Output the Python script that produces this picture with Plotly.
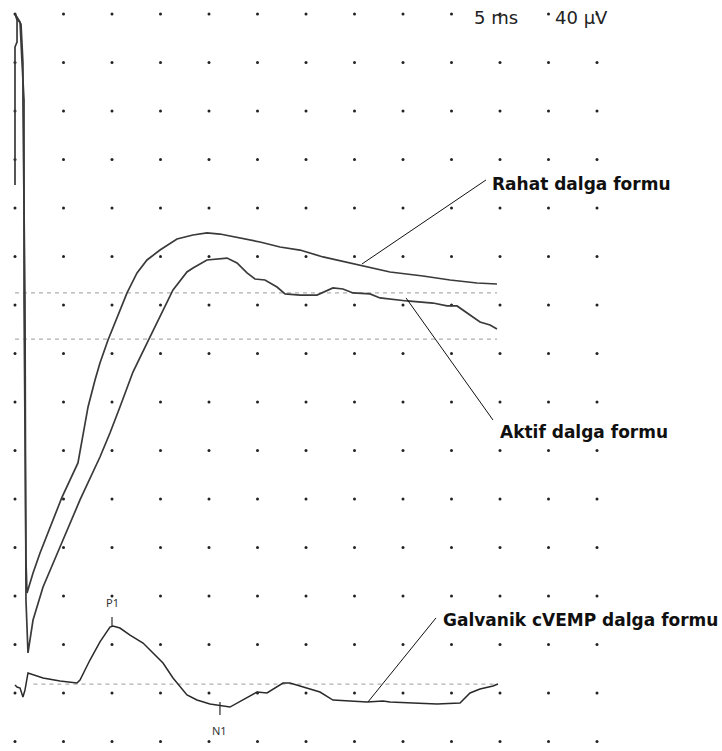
import plotly.graph_objects as go

# ---- data (time in ms, amplitude in µV; grid = 5 ms x 40 µV) ----
rahat_t = [0.0, 0.0, 0.21, 0.21, 0.0, 0.52, 0.72, 0.93, 0.93, 1.13, 1.24, 1.86, 2.58, 3.61, 4.85, 6.49,
           6.91, 7.53, 8.25, 8.76, 9.59, 10.52, 11.55, 12.58, 13.61, 14.95, 16.70, 18.35, 19.79, 21.13,
           23.20, 25.26, 27.32, 29.38, 31.75, 35.26, 38.66, 42.06, 44.85, 47.63, 49.69]
rahat_v = [459.0, 572.8, 576.9, 595.0, 600.0, 593.4, 560.4, 529.0, 364.1, 149.7, 122.5, 139.0, 155.5,
           176.9, 201.6, 229.7, 248.6, 275.9, 298.1, 312.2, 331.1, 350.1, 369.9, 386.4, 397.1, 405.3,
           414.4, 417.7, 419.4, 418.5, 415.2, 411.9, 407.8, 405.3, 399.6, 393.0, 387.2, 383.9, 380.6,
           378.1, 377.3]

aktif_t = [0.0, 0.31, 0.62, 0.82, 0.82, 1.03, 1.13, 1.34, 1.86, 2.89, 4.64, 6.70, 8.76, 9.79, 10.82,
           11.86, 12.16, 13.61, 14.95, 16.29, 17.73, 18.35, 19.79, 21.86, 22.89, 23.92, 24.74, 25.77,
           27.01, 27.84, 29.38, 31.13, 32.78, 33.81, 34.85, 36.60, 37.63, 40.41, 43.09, 44.54, 45.57,
           46.60, 47.94, 48.97, 49.69]
aktif_v = [600.0, 595.0, 591.7, 559.6, 525.7, 364.1, 116.7, 73.0, 100.2, 127.4, 160.4, 199.2, 234.6,
           254.4, 275.9, 298.1, 304.7, 328.6, 350.1, 372.4, 387.2, 390.5, 397.1, 398.7, 394.6, 386.4,
           381.4, 380.6, 374.8, 369.1, 368.2, 368.2, 374.0, 373.2, 369.9, 369.1, 365.8, 363.3, 361.6,
           359.2, 359.2, 353.4, 346.0, 343.5, 340.2]

galv_t = [0.0, 0.21, 0.52, 0.82, 1.03, 1.34, 2.89, 4.64, 6.39, 6.70, 7.73, 8.76, 9.79, 10.10, 10.82,
          11.86, 13.20, 14.23, 15.26, 16.29, 17.73, 18.76, 20.10, 22.16, 23.51, 24.95, 25.98, 27.63,
          28.35, 30.10, 31.44, 32.78, 34.54, 36.29, 37.94, 38.66, 41.03, 43.51, 45.88, 46.91, 47.94,
          49.28, 49.79]
galv_v = [46.6, 44.9, 44.1, 36.7, 42.5, 56.5, 52.4, 49.9, 48.2, 50.7, 67.2, 82.1, 94.4, 95.3, 93.6,
          87.8, 81.2, 73.0, 64.7, 52.4, 38.4, 34.2, 30.9, 28.4, 34.2, 40.8, 40.0, 48.2, 48.2, 44.1,
          40.8, 34.2, 33.4, 32.6, 33.4, 32.6, 31.8, 30.9, 31.8, 40.0, 43.3, 45.8, 47.4]

# reference (dashed) levels
ref_levels = [369.9, 331.9]
galv_ref = 47.4

# peak markers
peak_names = ["P1", "N1"]
peak_t = [10.0, 21.13]
peak_tick_top = [102.7, 32.6]
peak_tick_bot = [94.4, 21.9]
peak_label_v = [115.0, 8.7]

grid_t = [5 * i for i in range(13)]
grid_v = [40 * j for j in range(16)]

LINE = "#3a3a3a"
fig = go.Figure()

# dot grid
gx = [t for t in grid_t for v in grid_v]
gy = [v for t in grid_t for v in grid_v]
fig.add_trace(go.Scatter(x=gx, y=gy, mode="markers",
                         marker=dict(size=3, color="#222222"), hoverinfo="skip"))

# dashed reference lines
for lv in ref_levels:
    fig.add_trace(go.Scatter(x=[0, 49.7], y=[lv, lv], mode="lines",
                             line=dict(color="#b0b0b0", width=1.2, dash="4px,4px"), hoverinfo="skip"))
fig.add_trace(go.Scatter(x=[1.9, 49.8], y=[galv_ref, galv_ref], mode="lines",
                         line=dict(color="#b0b0b0", width=1.2, dash="4px,4px"), hoverinfo="skip"))

# waveforms
fig.add_trace(go.Scatter(x=rahat_t, y=rahat_v, mode="lines", line=dict(color=LINE, width=1.7)))
fig.add_trace(go.Scatter(x=aktif_t, y=aktif_v, mode="lines", line=dict(color=LINE, width=1.7)))
fig.add_trace(go.Scatter(x=galv_t, y=galv_v, mode="lines", line=dict(color="#2a2a2a", width=1.5)))

# peak ticks
for t, a, b in zip(peak_t, peak_tick_top, peak_tick_bot):
    fig.add_trace(go.Scatter(x=[t, t], y=[a, b], mode="lines",
                             line=dict(color="#2a2a2a", width=1.2), hoverinfo="skip"))

annotations = []
for name, t, v in zip(peak_names, peak_t, peak_label_v):
    annotations.append(dict(x=t, y=v, text=name, showarrow=False, xanchor="center", yanchor="middle",
                            font=dict(family="Noto Sans", size=11, color="#333333")))

# leader lines + labels
leaders = [
    ((35.77, 393.8), (48.56, 463.1), "Rahat dalga formu", (48.97, 459.8)),
    ((40.31, 365.8), (49.28, 265.1), "Aktif dalga formu", (49.79, 255.2)),
    ((36.39, 32.6), (43.40, 101.9), "Galvanik cVEMP dalga formu", (43.92, 100.2)),
]
for (p0, p1, txt, pos) in leaders:
    fig.add_trace(go.Scatter(x=[p0[0], p1[0]], y=[p0[1], p1[1]], mode="lines",
                             line=dict(color="#111111", width=1), hoverinfo="skip"))
    annotations.append(dict(x=pos[0], y=pos[1], text="<b>" + txt + "</b>", showarrow=False,
                            xanchor="left", yanchor="middle",
                            font=dict(family="DejaVu Sans", size=17, color="#101010")))

annotations.append(dict(x=47.1, y=596.8, text="5 ms", showarrow=False, xanchor="left", yanchor="middle",
                        font=dict(family="DejaVu Sans", size=18, color="#222222")))
annotations.append(dict(x=55.5, y=596.8, text="40 µV", showarrow=False, xanchor="left", yanchor="middle",
                        font=dict(family="DejaVu Sans", size=18, color="#222222")))

fig.update_layout(
    width=722, height=751, autosize=False,
    margin=dict(l=0, r=0, t=0, b=0),
    paper_bgcolor="white", plot_bgcolor="white",
    showlegend=False,
    xaxis=dict(range=[-1.546, 72.887], visible=False, fixedrange=True),
    yaxis=dict(range=[-7.83, 611.5], visible=False, fixedrange=True),
    annotations=annotations,
)

fig.write_html("out.html")
